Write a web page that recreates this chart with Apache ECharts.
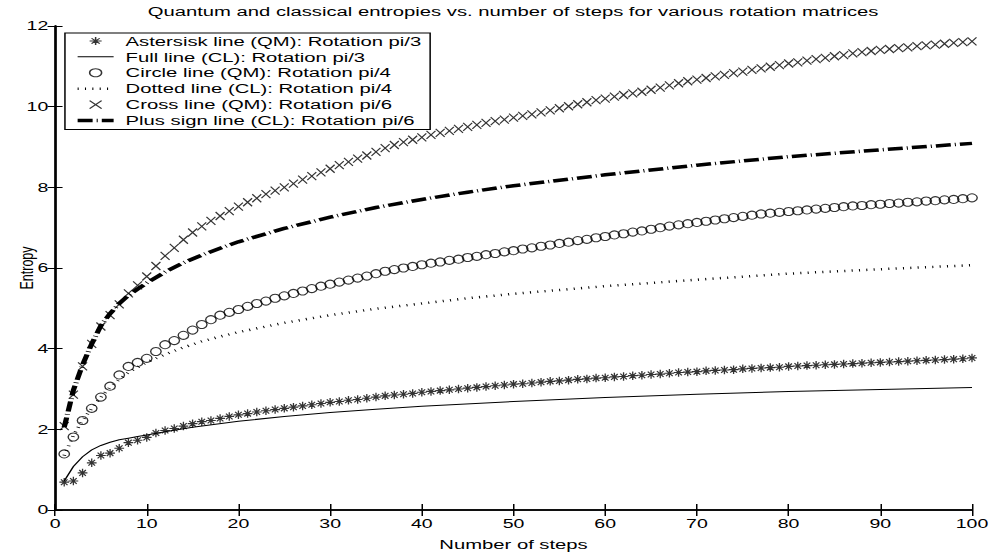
<!DOCTYPE html>
<html>
<head>
<meta charset="utf-8">
<script src="https://cdn.jsdelivr.net/npm/echarts@6/dist/echarts.min.js"></script>
<style>
  html, body { margin: 0; padding: 0; background: #fff; overflow: hidden; }
  /* the original figure is stretched sideways, so the whole chart is drawn narrow and widened */
  #chart { width: 662px; height: 556px; transform: scaleX(1.5); transform-origin: 0 0; }
</style>
</head>
<body>
<div id="chart"></div>
<script>
// steps (x values of the marker series)
var steps = [1,2,3,4,5,6,7,8,9,10,11,12,13,14,15,16,17,18,19,20,
  21,22,23,24,25,26,27,28,29,30,31,32,33,34,35,36,37,38,39,40,
  41,42,43,44,45,46,47,48,49,50,51,52,53,54,55,56,57,58,59,60,
  61,62,63,64,65,66,67,68,69,70,71,72,73,74,75,76,77,78,79,80,
  81,82,83,84,85,86,87,88,89,90,91,92,93,94,95,96,97,98,99,100];

// quantum entropies, one value per step
var qmPi3 = [0.69,0.72,0.92,1.17,1.35,1.41,1.53,1.67,1.73,1.80,
  1.91,1.97,2.02,2.08,2.14,2.19,2.22,2.27,2.32,2.36,
  2.39,2.43,2.46,2.49,2.52,2.55,2.58,2.61,2.64,2.67,
  2.69,2.72,2.74,2.77,2.80,2.83,2.85,2.87,2.89,2.92,
  2.94,2.96,2.98,3.00,3.02,3.04,3.06,3.08,3.10,3.12,
  3.13,3.15,3.17,3.19,3.20,3.22,3.24,3.25,3.27,3.28,
  3.30,3.31,3.33,3.34,3.36,3.37,3.39,3.41,3.42,3.43,
  3.45,3.46,3.47,3.48,3.50,3.51,3.52,3.53,3.54,3.56,
  3.57,3.58,3.59,3.60,3.61,3.62,3.63,3.64,3.65,3.66,
  3.67,3.68,3.69,3.70,3.71,3.72,3.73,3.74,3.75,3.77];

var qmPi4 = [1.39,1.81,2.22,2.52,2.80,3.07,3.35,3.56,3.66,3.76,
  3.93,4.10,4.20,4.33,4.46,4.60,4.72,4.83,4.90,4.97,
  5.05,5.12,5.18,5.25,5.31,5.37,5.43,5.49,5.55,5.60,
  5.65,5.70,5.75,5.80,5.86,5.92,5.96,6.00,6.04,6.08,
  6.12,6.15,6.19,6.22,6.26,6.29,6.33,6.36,6.40,6.43,
  6.47,6.50,6.54,6.57,6.61,6.64,6.68,6.71,6.75,6.78,
  6.82,6.85,6.89,6.92,6.96,7.00,7.04,7.07,7.10,7.13,
  7.16,7.19,7.22,7.25,7.28,7.31,7.34,7.36,7.38,7.40,
  7.42,7.44,7.46,7.48,7.50,7.52,7.54,7.55,7.57,7.58,
  7.60,7.61,7.63,7.64,7.66,7.67,7.69,7.70,7.72,7.74];

var qmPi6 = [2.08,2.86,3.56,4.12,4.55,4.83,5.10,5.37,5.57,5.79,
  6.05,6.30,6.50,6.70,6.88,7.03,7.17,7.29,7.41,7.52,
  7.63,7.73,7.83,7.92,8.00,8.09,8.19,8.28,8.37,8.46,
  8.55,8.63,8.71,8.79,8.88,8.97,9.05,9.12,9.18,9.24,
  9.30,9.35,9.40,9.45,9.50,9.55,9.60,9.64,9.68,9.73,
  9.77,9.81,9.86,9.91,9.96,10.01,10.06,10.11,10.16,10.20,
  10.25,10.29,10.33,10.37,10.42,10.47,10.53,10.58,10.63,10.67,
  10.71,10.75,10.79,10.83,10.87,10.91,10.95,10.99,11.03,11.07,
  11.10,11.14,11.18,11.21,11.25,11.28,11.32,11.35,11.38,11.41,
  11.43,11.45,11.47,11.50,11.52,11.54,11.56,11.58,11.60,11.62];

// classical entropies, read at fewer steps (plain lines)
var clPi3Steps = [1,2,3,4,5,6,7,8,9,10,12,15,20,25,30,35,40,50,60,70,80,90,100];
var clPi3 = [0.72,1.08,1.32,1.49,1.60,1.68,1.74,1.78,1.82,1.86,1.94,2.05,2.20,2.32,2.42,2.50,2.57,2.69,2.79,2.87,2.94,2.99,3.04];

var clPi4Steps = [1,2,3,4,5,6,7,8,9,10,12,14,16,18,20,25,30,35,40,45,50,60,70,80,90,100];
var clPi4 = [1.35,1.85,2.22,2.52,2.80,3.04,3.24,3.41,3.54,3.66,3.86,4.03,4.18,4.30,4.41,4.64,4.83,4.99,5.12,5.25,5.36,5.55,5.71,5.86,5.97,6.07];

var clPi6Steps = [1,2,3,4,5,6,7,8,9,10,12,14,16,18,20,25,30,35,40,45,50,60,70,80,90,100];
var clPi6 = [2.05,2.97,3.60,4.12,4.57,4.87,5.12,5.32,5.48,5.63,5.90,6.13,6.32,6.49,6.65,6.98,7.26,7.50,7.70,7.88,8.04,8.31,8.55,8.76,8.93,9.09];

var names = [
  'Astersisk line (QM): Rotation pi/3',
  'Full line (CL): Rotation pi/3',
  'Circle line (QM): Rotation pi/4',
  'Dotted line (CL): Rotation pi/4',
  'Cross line (QM): Rotation pi/6',
  'Plus sign line (CL): Rotation pi/6'
];
var titleText = 'Quantum and classical entropies vs. number of steps for various rotation matrices';

function pairs(xs, ys) {
  return xs.map(function (x, i) { return [x, ys[i]]; });
}

var font = 'Liberation Sans, Arial, Helvetica, sans-serif';
var asterisk = 'path://M0,5L10,5M5,0L5,10M1.6,1.6L8.4,8.4M1.6,8.4L8.4,1.6';
var cross = 'path://M0,0L10,10M0,10L10,0';
var hollow = { color: 'rgba(0,0,0,0)', borderColor: '#000', borderWidth: 1 };
var noMark = { opacity: 0 };
var solidLine = { color: '#000', width: 1, type: 'solid' };
var dotLine = { color: '#000', width: 2.5, type: [0.7, 4.2] };
var dashDotLine = { color: '#000', width: 3.5, type: [10, 2.7, 0.7, 2.7] };

// grid, in the narrow (unstretched) coordinates
var gridLeft = 36.7, gridRight = 14, chartW = 662;

// centre the title over the plot area
var ctx = document.createElement('canvas').getContext('2d');
ctx.font = '13.5px Liberation Sans';
var titleW = ctx.measureText(titleText).width;
var plotMid = (gridLeft + chartW - gridRight) / 2;

var chart = echarts.init(document.getElementById('chart'), null, { renderer: 'svg' });

var frameAxis = {
  axisLine: { show: true, lineStyle: { color: '#000', width: 1.5 } },
  splitLine: { show: false }
};

chart.setOption({
  animation: false,
  backgroundColor: '#fff',
  textStyle: { fontFamily: font, color: '#000' },
  title: {
    text: titleText,
    left: plotMid - titleW / 2,
    top: 4,
    padding: 0,
    textStyle: { fontFamily: font, fontSize: 13.5, fontWeight: 'normal', color: '#000' }
  },
  grid: { left: gridLeft, right: gridRight, top: 26, bottom: 46, containLabel: false, outerBoundsMode: 'none' },
  legend: {
    orient: 'vertical',
    left: 43.3,
    top: 33,
    padding: [0, 5.7, 1, 6.7],
    itemGap: 0,
    itemWidth: 24,
    itemHeight: 8,
    borderColor: '#000',
    borderWidth: 1,
    borderRadius: 0,
    backgroundColor: '#fff',
    selectedMode: false,
    textStyle: { fontFamily: font, fontSize: 13.5, color: '#000', lineHeight: 15.9, padding: [0, 0, 0, 3] },
    data: [
      { name: names[0], icon: asterisk, itemStyle: hollow },
      { name: names[1], lineStyle: solidLine, itemStyle: noMark },
      { name: names[2], icon: 'circle', itemStyle: hollow },
      { name: names[3], lineStyle: dotLine, itemStyle: noMark },
      { name: names[4], icon: cross, itemStyle: hollow },
      { name: names[5], lineStyle: dashDotLine, itemStyle: noMark }
    ]
  },
  xAxis: [
    Object.assign({
      type: 'value', position: 'bottom', min: 0, max: 100, interval: 10,
      name: 'Number of steps', nameLocation: 'middle', nameGap: 27, nameMoveOverlap: false,
      nameTextStyle: { fontFamily: font, fontSize: 13.5, color: '#000' },
      axisTick: { show: true, inside: true, length: 6, lineStyle: { color: '#000', width: 1 } },
      axisLabel: { fontFamily: font, fontSize: 13, color: '#000', margin: 7 }
    }, frameAxis),
    Object.assign({
      type: 'value', position: 'top', min: 0, max: 100, interval: 10,
      axisTick: { show: true, inside: true, length: 6, lineStyle: { color: '#000', width: 1 } },
      axisLabel: { show: false }
    }, frameAxis)
  ],
  yAxis: [
    Object.assign({
      type: 'value', position: 'left', min: 0, max: 12, interval: 2,
      name: 'Entropy', nameLocation: 'middle', nameGap: 12.5, nameMoveOverlap: false,
      nameTextStyle: { fontFamily: font, fontSize: 12.5, color: '#000' },
      axisTick: { show: true, inside: true, length: 5, lineStyle: { color: '#000', width: 1 } },
      axisLabel: { fontFamily: font, fontSize: 13, color: '#000', margin: 4.5 }
    }, frameAxis),
    Object.assign({
      type: 'value', position: 'right', min: 0, max: 12, interval: 2,
      axisTick: { show: true, inside: true, length: 5, lineStyle: { color: '#000', width: 1 } },
      axisLabel: { show: false }
    }, frameAxis)
  ],
  series: [
    { name: names[0], type: 'scatter', data: pairs(steps, qmPi3), symbol: asterisk, symbolSize: [6.5, 8.5],
      itemStyle: hollow, clip: false, z: 4 },
    { name: names[1], type: 'line', data: pairs(clPi3Steps, clPi3), symbol: 'none', lineStyle: solidLine, clip: false, z: 3 },
    { name: names[2], type: 'scatter', data: pairs(steps, qmPi4), symbol: 'circle', symbolSize: [7, 8],
      itemStyle: hollow, clip: false, z: 4 },
    { name: names[3], type: 'line', data: pairs(clPi4Steps, clPi4), symbol: 'none', lineStyle: dotLine, clip: false, z: 3 },
    { name: names[4], type: 'scatter', data: pairs(steps, qmPi6), symbol: cross, symbolSize: [6, 8],
      itemStyle: hollow, clip: false, z: 4 },
    { name: names[5], type: 'line', data: pairs(clPi6Steps, clPi6), symbol: 'none', lineStyle: dashDotLine, clip: false, z: 3 }
  ]
});
</script>
</body>
</html>
